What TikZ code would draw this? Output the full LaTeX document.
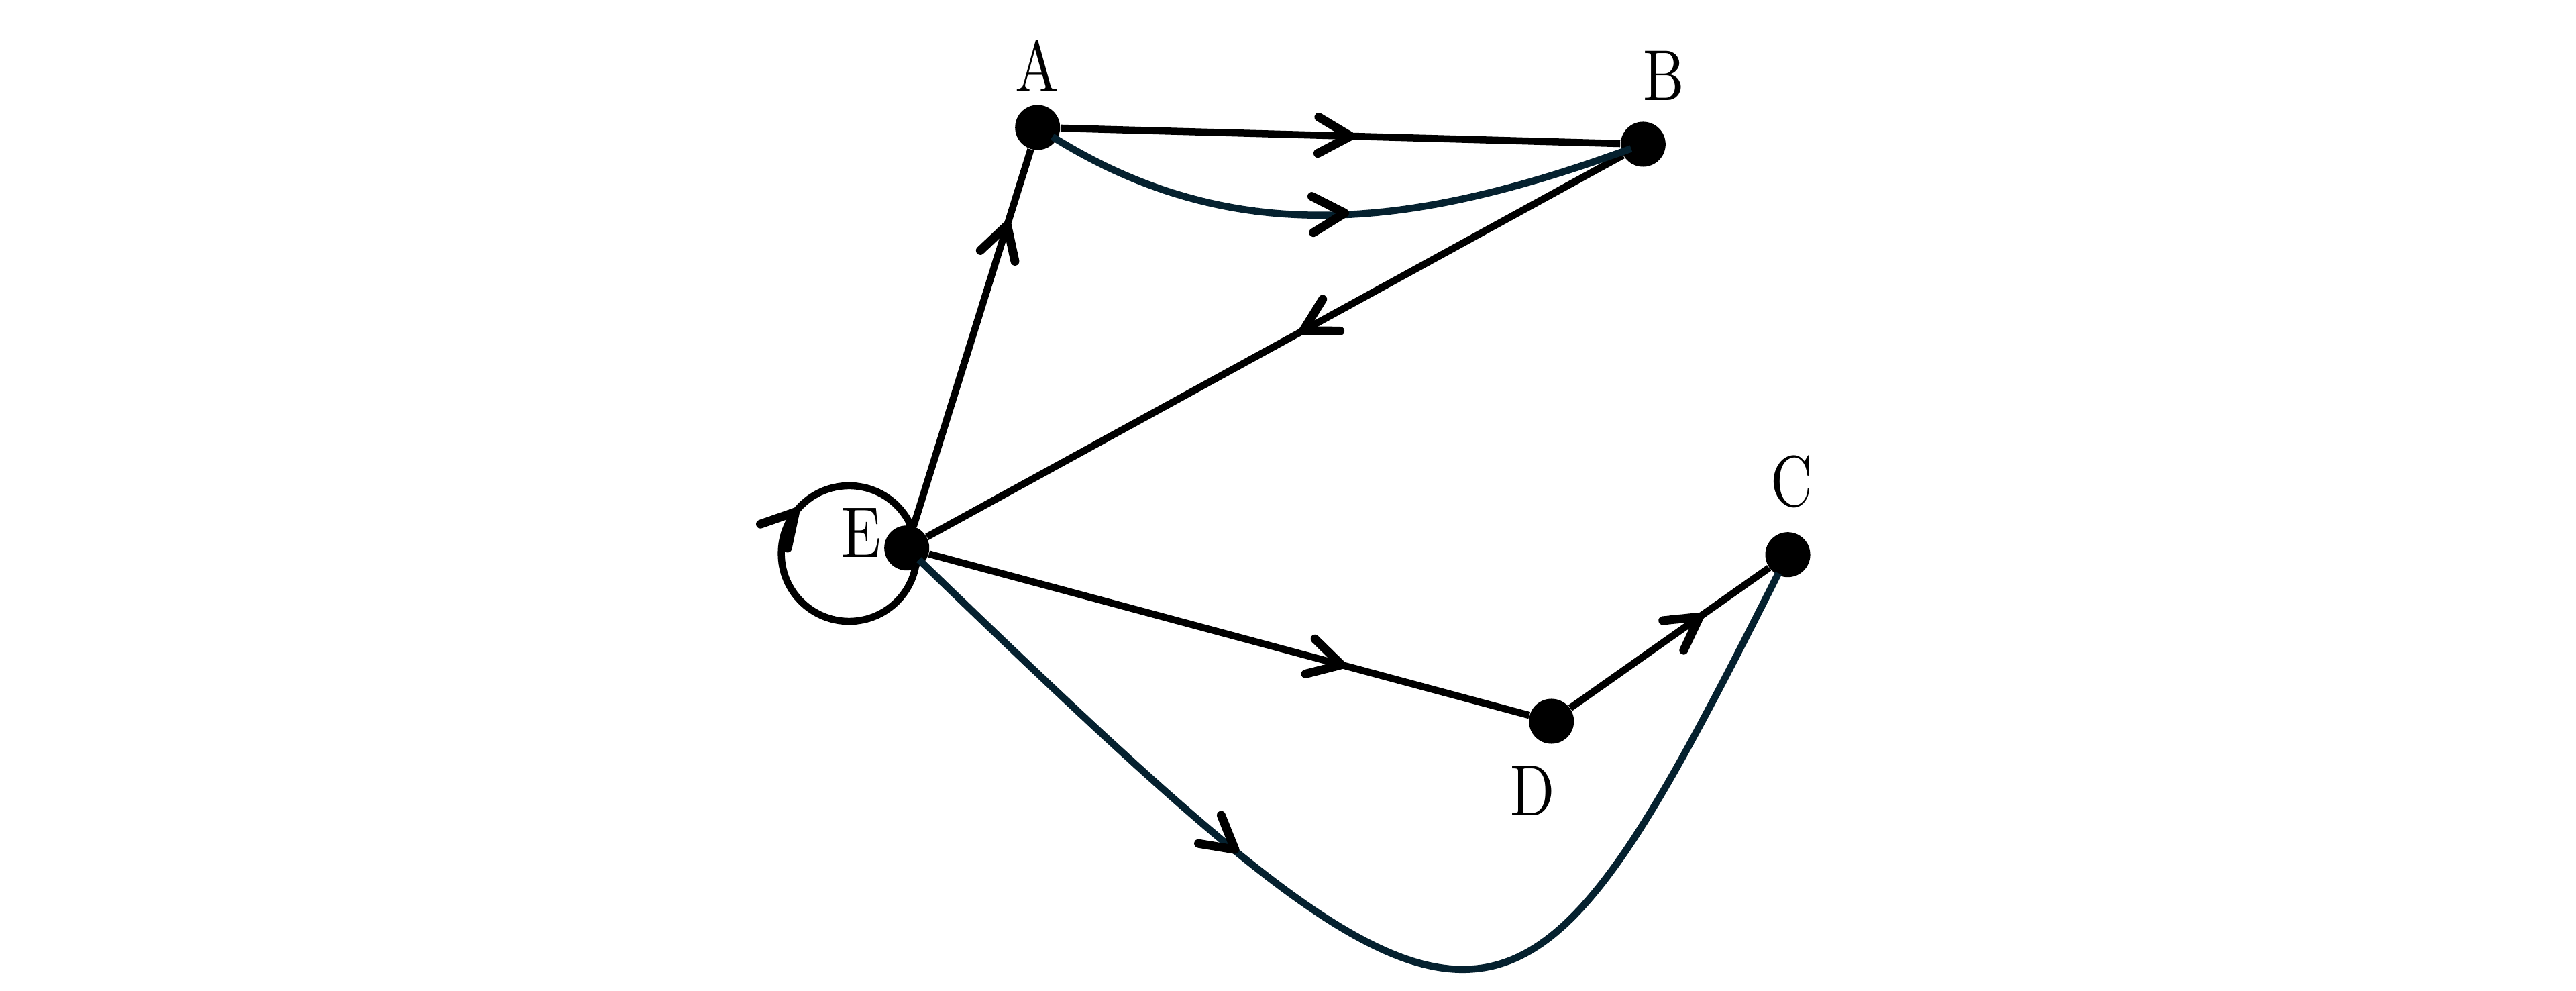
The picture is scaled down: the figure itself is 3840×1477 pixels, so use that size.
\documentclass[tikz,border=0pt]{standalone}
\usepackage{graphicx}
\usetikzlibrary{arrows.meta,decorations.markings}
\definecolor{navy}{RGB}{5,33,47}
\tikzset{
  dot/.style={circle, fill=black, inner sep=0pt, minimum size=0.67cm},
  lbl/.style={inner sep=0pt, anchor=base, font=\fontsize{10}{12}\selectfont},
  edgeline/.style={line width=0.105cm, draw=black},
  navycurve/.style={line width=0.105cm, draw=navy},
  barb/.tip={Straight Barb[length=0.48cm,width=0.54cm,line width=0.13cm,round,color=black]},
  midarrow/.style={postaction={decorate, decoration={markings,
      mark=at position #1 with {\arrow{barb}}}}},
  midarrowrev/.style={postaction={decorate, decoration={markings,
      mark=at position #1 with {\arrowreversed{barb}}}}},
}
\newcommand{\narrow}[1]{\scalebox{2.47}[3.05]{#1}}
\begin{document}
\begin{tikzpicture}[x=0.01cm, y=-0.01cm]
  \useasboundingbox (0,0) rectangle (3840,1477);
  % vertices
  \node[dot] (A) at (1546.7,190) {};
  \node[dot] (B) at (2449.3,215) {};
  \node[dot] (C) at (2665,826.7) {};
  \node[dot] (D) at (2312.7,1075) {};
  \node[dot] (E) at (1351.7,816.7) {};
  % labels
  \node[lbl] (lA) at (1545.8,137) {\narrow{A}};
  \node[lbl] (lB) at (2480,150) {\narrow{B}};
  \node[lbl] (lC) at (2670.8,755) {\narrow{C}};
  \node[lbl] (lD) at (2285,1215) {\narrow{D}};
  \node[lbl] (lE) at (1284,830.7) {\narrow{E}};
  % straight edges
  \draw[edgeline, midarrow=0.81] (E) -- (A);
  \draw[edgeline, midarrow=0.526] (A) -- (B);
  \draw[edgeline, midarrow=0.465] (B) -- (E);
  \draw[edgeline, midarrow=0.694] (E) -- (D);
  \draw[edgeline, midarrow=0.67] (D) -- (C);
  % loop at E
  \draw[edgeline, midarrowrev=0.385] ([shift={(-86,8.3)}]E.center) circle[radius=1.01cm];
  % curved edges
  \draw[navycurve, shorten <=0.26cm, shorten >=0.19cm, midarrow=0.52]
    (A.center) to[out=-32, in=200] (B.center);
  \draw[navycurve, shorten <=0.25cm, shorten >=0.31cm, midarrow=0.36]
    (E.center) .. controls (2215,1650) and (2255,1640) .. (C.center);
\end{tikzpicture}
\end{document}
